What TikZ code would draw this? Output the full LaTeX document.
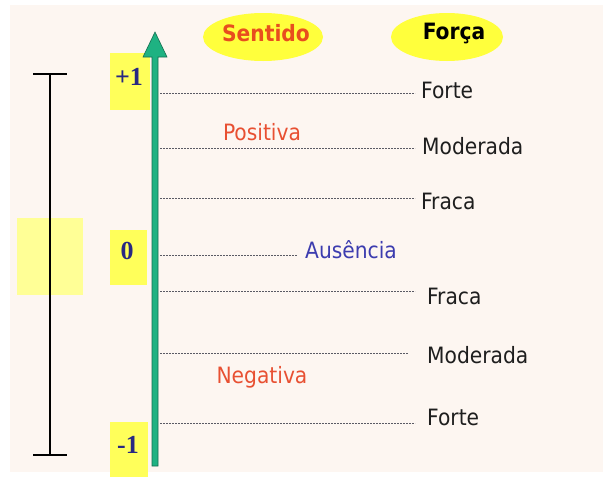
\documentclass[tikz,border=0pt]{standalone}
\usepackage{fontspec}
\setmainfont{DejaVu Sans Condensed}
\newfontfamily\numfont{Liberation Serif}
\usetikzlibrary{shapes.geometric}
\definecolor{bg}{RGB}{253,246,241}
\definecolor{paleyel}{RGB}{255,255,150}
\definecolor{boxyel}{RGB}{255,255,90}
\definecolor{ellyel}{RGB}{255,255,60}
\definecolor{arrowgreen}{RGB}{30,178,130}
\definecolor{arrowdark}{RGB}{20,110,80}
\definecolor{numblue}{RGB}{40,40,130}
\definecolor{senred}{RGB}{232,78,30}
\definecolor{posred}{RGB}{232,80,50}
\definecolor{ausblue}{RGB}{60,60,175}
\definecolor{txtdark}{RGB}{30,30,30}
\definecolor{dashgray}{RGB}{90,90,100}
\tikzset{
  lbl/.style={font=\fontsize{22.5}{25}\selectfont, text=txtdark, inner sep=0pt, anchor=west},
  numlbl/.style={font=\numfont\bfseries\fontsize{26}{28}\selectfont, text=numblue, inner sep=0pt},
  numbox/.style={fill=boxyel, inner sep=0pt},
  guide/.style={draw=dashgray, line width=0.7pt, dash pattern=on 2pt off 1pt},
  head/.style={font=\bfseries\fontsize{22.5}{25}\selectfont, inner sep=0pt},
  bracket/.style={line width=1.6pt, black}
}
\begin{document}
\begin{tikzpicture}[x=1pt,y=-1pt]
\useasboundingbox (0,0) rectangle (603,477);
\fill[white] (0,0) rectangle (603,477);
\fill[bg] (10,5) rectangle (603,472);

% left bracket
\fill[paleyel] (17,218) rectangle (83,295);
\coordinate (btl) at (33,74); \coordinate (btr) at (67,74);
\coordinate (bt) at (50,74); \coordinate (bb) at (50,455);
\coordinate (bbl) at (33,455); \coordinate (bbr) at (67,455);
\draw[bracket] (btl) -- (btr);
\draw[bracket] (bt) -- (bb);
\draw[bracket] (bbl) -- (bbr);

% number boxes
\node[numbox, minimum width=40pt, minimum height=57pt] (bp1) at (130,81.5) {};
\node[numbox, minimum width=37pt, minimum height=55pt] (b0) at (128.5,257.5) {};
\node[numbox, minimum width=38pt, minimum height=55pt] (bm1) at (129,449.5) {};
\node[numlbl] (np1) at (129,77) {+1};
\node[numlbl] (n0) at (127,251) {0};
\node[numlbl] (nm1) at (128,445) {-1};

% green arrow
\filldraw[fill=arrowgreen, draw=arrowdark, line width=0.6pt]
  (152,466) -- (152,57) -- (143,57) -- (155,32) -- (167,57) -- (158,57) -- (158,466) -- cycle;

% header ellipses
\node[ellipse, fill=ellyel, minimum width=120pt, minimum height=48pt] (es) at (263,37) {};
\node[ellipse, fill=ellyel, minimum width=112pt, minimum height=48pt] (ef) at (447,37) {};
\node[head, text=senred] (sen) at (266,33) {Sentido};
\node[head, text=black] (forca) at (454,33) {Força};

% labels
\node[lbl] (t1) at (421,90) {Forte};
\node[lbl] (t2) at (422,146) {Moderada};
\node[lbl] (t3) at (421,201) {Fraca};
\node[lbl, text=ausblue] (t4) at (305,250) {Ausência};
\node[lbl] (t5) at (427,296) {Fraca};
\node[lbl] (t6) at (427,355) {Moderada};
\node[lbl] (t7) at (427,417) {Forte};
\node[lbl, text=posred, anchor=center] (pos) at (262,132) {Positiva};
\node[lbl, text=posred, anchor=center] (neg) at (262,377) {Negativa};

% guide lines
\coordinate (g1) at (160,93);
\coordinate (g2) at (160,148);
\coordinate (g3) at (160,198);
\coordinate (g4) at (160,255);
\coordinate (g5) at (160,291);
\coordinate (g6) at (160,353);
\coordinate (g7) at (160,423);
\draw[guide, shorten >=6pt] (g1) -- (g1 -| t1.west);
\draw[guide, shorten >=7pt] (g2) -- (g2 -| t2.west);
\draw[guide, shorten >=6pt] (g3) -- (g3 -| t3.west);
\draw[guide, shorten >=8pt] (g4) -- (g4 -| t4.west);
\draw[guide, shorten >=12pt] (g5) -- (g5 -| t5.west);
\draw[guide, shorten >=19pt] (g6) -- (g6 -| t6.west);
\draw[guide, shorten >=12pt] (g7) -- (g7 -| t7.west);
\end{tikzpicture}
\end{document}
